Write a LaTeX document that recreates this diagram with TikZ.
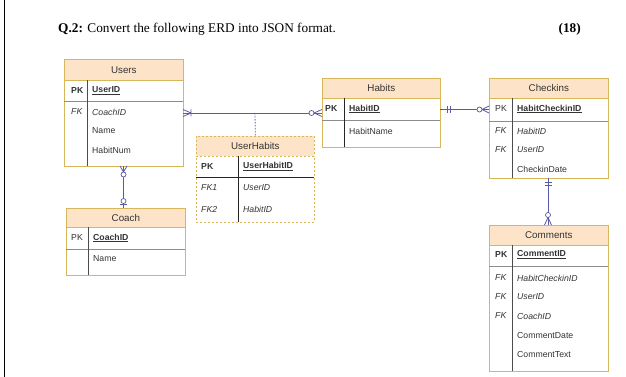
\documentclass[tikz,border=0pt]{standalone}
\usepackage{fontspec}
\setmainfont{Liberation Serif}
\newfontfamily\erfont{Liberation Sans}
\definecolor{hdrfill}{HTML}{FDE4C8}
\definecolor{tblline}{HTML}{D8B65C}
\definecolor{rowsep}{HTML}{8C8C8C}
\definecolor{connblue}{HTML}{5A5AA8}
\definecolor{ertext}{HTML}{333333}
\tikzset{
 tblhdr/.style={draw=tblline, fill=hdrfill, line width=0.7pt, inner sep=0pt, anchor=north west, font=\erfont\fontsize{9.8}{11}\selectfont, text=ertext},
 tblbody/.style={draw=tblline, line width=0.7pt, inner sep=0pt, anchor=north west},
 dashhdr/.style={tblhdr, dash pattern=on 2pt off 2pt},
 dashbody/.style={tblbody, dash pattern=on 2pt off 2pt},
 erow/.style={anchor=west, inner sep=0pt, font=\erfont\fontsize{8.7}{10}\selectfont, text=ertext},
 ekey/.style={erow, font=\erfont\bfseries\fontsize{8.7}{10}\selectfont},
 efk/.style={erow, font=\erfont\itshape\fontsize{8.7}{10}\selectfont},
 sepline/.style={draw=rowsep, line width=0.7pt},
 darksep/.style={draw=black!85, line width=0.7pt},
 divline/.style={draw=black!70, line width=0.7pt},
 conn/.style={draw=connblue, line width=0.8pt},
 ring/.style={draw=connblue, fill=white, line width=0.7pt},
}
\begin{document}
\begin{tikzpicture}[x=1pt,y=-1pt]
\useasboundingbox (0,0) rectangle (626,377);
% page margin rule
\draw[line width=0.9pt] (4.5,0) -- (4.5,377);
% title
\node[anchor=west, inner sep=0pt, font=\fontsize{13.3}{15}\selectfont] (title) at (58,29.5) {\textbf{Q.2:} Convert the following ERD into JSON format.};
\node[anchor=east, inner sep=0pt, font=\bfseries\fontsize{13.3}{15}\selectfont] (marks) at (581,29.5) {(18)};

% ---------- Users ----------
\node[tblhdr, minimum width=119pt, minimum height=21pt] (users) at (64,59) {Users};
\node[tblbody, minimum width=119pt, minimum height=86pt] (usersbody) at (64,80) {};
\draw[sepline] (64,101) -- (183,101);
\draw[divline] (87,80) -- (87,166);
\node[ekey] (u-k1) at (71,90.5) {PK};
\node[ekey] (u-f1) at (92,90.5) {\underline{UserID}};
\node[efk] (u-k2) at (71,112) {FK};
\node[efk] (u-f2) at (92,112) {CoachID};
\node[erow] (u-f3) at (92,131) {Name};
\node[erow] (u-f4) at (92,150) {HabitNum};

% ---------- Coach ----------
\node[tblhdr, minimum width=119pt, minimum height=19pt] (coach) at (66,208) {Coach};
\node[tblbody, minimum width=119pt, minimum height=48pt] (coachbody) at (66,227) {};
\draw[sepline] (66,249) -- (185,249);
\draw[divline] (88,227) -- (88,275);
\node[erow] (c-k1) at (71,238) {PK};
\node[ekey] (c-f1) at (93,238) {\underline{CoachID}};
\node[erow] (c-f2) at (93,259) {Name};

% ---------- UserHabits ----------
\node[dashhdr, minimum width=118pt, minimum height=20pt] (uh) at (196,136) {UserHabits};
\node[dashbody, minimum width=118pt, minimum height=66pt] (uhbody) at (196,156) {};
\draw[darksep] (196,177) -- (314,177);
\draw[darksep] (238,156) -- (238,222);
\node[ekey] (h-k1) at (201,166.5) {PK};
\node[ekey] (h-f1) at (243,166.5) {\underline{UserHabitID}};
\node[efk] (h-k2) at (201,188) {FK1};
\node[efk] (h-f2) at (243,188) {UserID};
\node[efk] (h-k3) at (201,209) {FK2};
\node[efk] (h-f3) at (243,209) {HabitID};

% ---------- Habits ----------
\node[tblhdr, minimum width=118pt, minimum height=20pt] (habits) at (322,78) {Habits};
\node[tblbody, minimum width=118pt, minimum height=49pt] (habitsbody) at (322,98) {};
\draw[sepline] (322,120) -- (440,120);
\draw[darksep] (344,98) -- (344,147);
\node[ekey] (b-k1) at (325,109) {PK};
\node[ekey] (b-f1) at (349,109) {\underline{HabitID}};
\node[erow] (b-f2) at (349,131) {HabitName};

% ---------- Checkins ----------
\node[tblhdr, minimum width=119pt, minimum height=20pt] (checkins) at (489,78) {Checkins};
\node[tblbody, minimum width=119pt, minimum height=80pt] (checkinsbody) at (489,98) {};
\draw[sepline] (489,121) -- (608,121);
\draw[divline] (512,98) -- (512,178);
\node[erow] (k-k1) at (495,109) {PK};
\node[ekey] (k-f1) at (517,109) {\underline{HabitCheckinID}};
\node[efk] (k-k2) at (495,131) {FK};
\node[efk] (k-f2) at (517,131) {HabitID};
\node[efk] (k-k3) at (495,150) {FK};
\node[efk] (k-f3) at (517,150) {UserID};
\node[erow] (k-f4) at (517,169) {CheckinDate};

% ---------- Comments ----------
\node[tblhdr, minimum width=119pt, minimum height=20pt] (comments) at (489,225) {Comments};
\node[tblbody, minimum width=119pt, minimum height=126pt] (commentsbody) at (489,245) {};
\draw[sepline] (489,266) -- (608,266);
\draw[divline] (512,245) -- (512,371);
\node[ekey] (m-k1) at (495,255) {PK};
\node[ekey] (m-f1) at (517,255) {\underline{CommentID}};
\node[efk] (m-k2) at (495,278) {FK};
\node[efk] (m-f2) at (517,278) {HabitCheckinID};
\node[efk] (m-k3) at (495,297) {FK};
\node[efk] (m-f3) at (517,297) {UserID};
\node[efk] (m-k4) at (495,316) {FK};
\node[efk] (m-f4) at (517,316) {CoachID};
\node[erow] (m-f5) at (517,336) {CommentDate};
\node[erow] (m-f6) at (517,355) {CommentText};

% ---------- connectors ----------
% Users -- Habits
\coordinate (e1a) at (183,113);
\coordinate (e1b) at (322,113);
\coordinate (e1m) at (255,113);
\draw[conn] (e1a) -- (e1b);
\draw[conn, shift={(e1a)}] (8,0) -- (0,-3.5) (8,0) -- (0,3.5) (8,-3.5) -- (8,3.5);
\draw[conn, shift={(e1b)}] (-8,0) -- (0,-3.5) (-8,0) -- (0,3.5);
\draw[ring, shift={(e1b)}] (-10.5,0) circle[radius=2.5pt];
\draw[conn, dash pattern=on 1.5pt off 1.5pt] (e1m) -- (uh.north);

% Users -- Coach
\coordinate (e2a) at (123.5,166);
\coordinate (e2b) at (123.5,208);
\draw[conn] (e2a) -- (e2b);
\draw[conn, shift={(e2a)}] (0,6) -- (-3.5,0) (0,6) -- (3.5,0);
\draw[ring, shift={(e2a)}] (0,8.5) circle[radius=2.5pt];
\draw[conn, shift={(e2b)}] (-3.5,-3.5) -- (3.5,-3.5);
\draw[ring, shift={(e2b)}] (0,-7) circle[radius=2.5pt];

% Habits -- Checkins
\coordinate (e3a) at (440,109.5);
\coordinate (e3b) at (489,109.5);
\draw[conn] (e3a) -- (e3b);
\draw[conn, shift={(e3a)}] (7,-3.5) -- (7,3.5) (10,-3.5) -- (10,3.5);
\draw[conn, shift={(e3b)}] (-7,0) -- (0,-3.5) (-7,0) -- (0,3.5);
\draw[ring, shift={(e3b)}] (-9.5,0) circle[radius=2.5pt];

% Checkins -- Comments
\coordinate (e4a) at (548,178);
\coordinate (e4b) at (548,225);
\draw[conn] (e4a) -- (e4b);
\draw[conn, shift={(e4a)}] (-3.5,4) -- (3.5,4) (-3.5,7) -- (3.5,7);
\draw[conn, shift={(e4b)}] (0,-7.5) -- (-3.5,0) (0,-7.5) -- (3.5,0);
\draw[ring, shift={(e4b)}] (0,-10) circle[radius=2.5pt];
\end{tikzpicture}
\end{document}
